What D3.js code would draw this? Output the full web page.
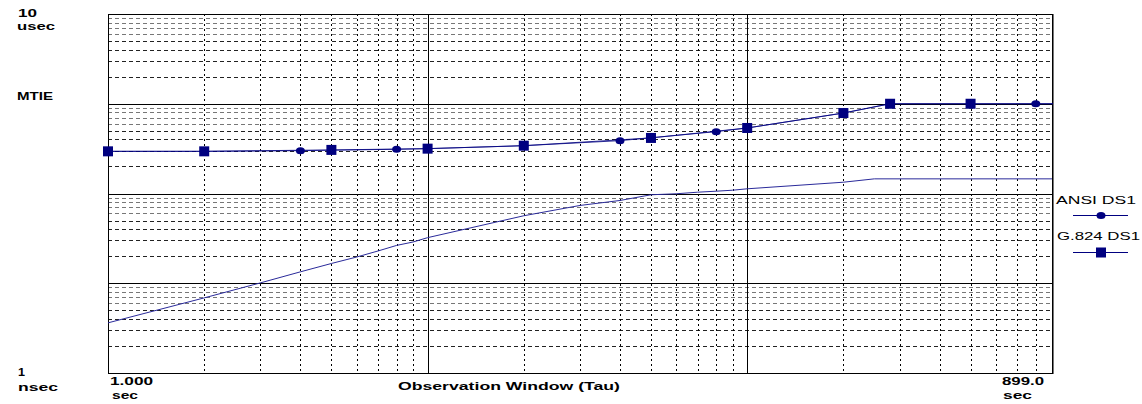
<!DOCTYPE html>
<html><head><meta charset="utf-8">
<script src="https://cdn.jsdelivr.net/npm/d3@7"></script>
<style>body{margin:0;background:#fff}svg{display:block}text{font-family:"Liberation Sans",Arial,sans-serif}</style>
</head><body><svg id="c" width="1142" height="404"></svg>
<script>
// Observation window tau (sec) and MTIE (nsec)
const g824Tau = [1, 2, 5, 10, 20, 50, 100, 200, 280, 500, 1000];
const g824Mtie = [295, 295, 306, 316, 341, 416, 537, 788, 1000, 1000, 1000];
const ansiTau = [1, 2, 4, 8, 10, 20, 40, 80, 100, 200, 280, 800, 1000];
const ansiMtie = [295, 295, 300, 311, 316, 341, 388, 489, 537, 788, 1000, 1000, 1000];
const measTau = [1, 2, 3, 4, 5, 6, 7, 8, 9, 10, 20, 30, 40, 50, 60, 70, 80, 90, 100, 200, 250, 899];
const measMtie = [3.62, 6.87, 10.1, 13.4, 16.6, 19.6, 22.9, 26.4, 28.8, 32.2, 56.5, 73.6, 83.6, 96.8, 99.3, 103.4, 106.1, 108.8, 112.8, 133.6, 145.6, 145.6];
const xDomain = [1, 899];
const yDomain = [1, 10000];
const legendNames = ["ANSI DS1", "G.824 DS1"];

const svg = d3.select("#c");
const L = 108, R = 1052, T = 14, B = 373;
const x = d3.scaleLog().domain(xDomain).range([L, R]);
const y = d3.scaleLog().domain(yDomain).range([B, T]);
const navy = "#000080";
const px = v => Math.round(v) + 0.5;

// grid
const yMinor = [], yMajor = [];
[1, 10, 100, 1000].forEach(d => { for (let k = 2; k <= 9; k++) yMinor.push(d * k); if (d > 1) yMajor.push(d); });
const xMinor = [], xMajor = [10, 100];
[1, 10, 100].forEach(d => { for (let k = 2; k <= 9; k++) if (d * k < xDomain[1]) xMinor.push(d * k); });

const grid = svg.append("g").attr("shape-rendering", "crispEdges");
grid.selectAll(".hm").data(yMinor).join("line")
  .attr("x1", L).attr("x2", R).attr("y1", d => px(y(d))).attr("y2", d => px(y(d)))
  .attr("stroke", d => (d / Math.pow(10, Math.floor(Math.log10(d) + 1e-9))) >= 6 ? "#777" : "#222")
  .attr("stroke-dasharray", "4,3");
grid.selectAll(".vm").data(xMinor).join("line")
  .attr("y1", T).attr("y2", B).attr("x1", d => px(x(d))).attr("x2", d => px(x(d)))
  .attr("stroke", "#000").attr("stroke-dasharray", "2,3");
grid.selectAll(".hM").data(yMajor).join("line")
  .attr("x1", L).attr("x2", R).attr("y1", d => px(y(d))).attr("y2", d => px(y(d)))
  .attr("stroke", "#000");
grid.selectAll(".vM").data(xMajor).join("line")
  .attr("y1", T).attr("y2", B).attr("x1", d => px(x(d))).attr("x2", d => px(x(d)))
  .attr("stroke", "#000");

// border
svg.append("rect").attr("x", L + 0.5).attr("y", T + 0.5).attr("width", R - L).attr("height", B - T)
  .attr("fill", "none").attr("stroke", "#000").attr("shape-rendering", "crispEdges");
svg.append("line").attr("x1", R + 1.5).attr("x2", R + 1.5).attr("y1", T).attr("y2", B + 1).attr("stroke", "#777");

svg.append("defs").append("clipPath").attr("id", "clip")
  .append("rect").attr("x", L).attr("y", T).attr("width", R - L + 1).attr("height", B - T);

const line = d3.line().x(d => x(d[0])).y(d => y(d[1]));
const zip = (a, b) => a.map((t, i) => [t, b[i]]);
const meas = zip(measTau, measMtie), ansi = zip(ansiTau, ansiMtie), g824 = zip(g824Tau, g824Mtie);

const lines = svg.append("g").attr("clip-path", "url(#clip)");
lines.append("path").attr("d", line(meas)).attr("fill", "none").attr("stroke", "#2a2a9a").attr("stroke-width", 1);
lines.append("path").attr("d", line(ansi)).attr("fill", "none").attr("stroke", navy).attr("stroke-width", 0.8);
lines.append("path").attr("d", line(g824)).attr("fill", "none").attr("stroke", navy).attr("stroke-width", 0.8);

const inDom = d => d[0] >= xDomain[0] && d[0] <= xDomain[1];
svg.append("g").selectAll("ellipse").data(ansi.filter(inDom)).join("ellipse")
  .attr("cx", d => x(d[0])).attr("cy", d => y(d[1])).attr("rx", 4.5).attr("ry", 3.5).attr("fill", navy);
svg.append("g").selectAll("rect").data(g824.filter(inDom)).join("rect")
  .attr("x", d => x(d[0]) - 5).attr("y", d => y(d[1]) - 5).attr("width", 10).attr("height", 10).attr("fill", navy);

// texts
function txt(s, xx, yy, w, bold) {
  svg.append("text").attr("x", xx).attr("y", yy).text(s)
    .attr("font-size", 11).attr("font-weight", bold ? "bold" : "normal").attr("fill", "#000")
    .attr("textLength", w).attr("lengthAdjust", "spacingAndGlyphs");
}
txt("10", 18, 17, 19, true);
txt("usec", 17, 30, 38, true);
txt("MTIE", 17, 100, 36, true);
txt("1", 18, 376, 7, true);
txt("nsec", 18, 391, 40, true);
txt("1.000", 110, 385, 43, true);
txt("sec", 112, 399, 26, true);
txt("899.0", 1002, 385, 42, true);
txt("sec", 1003, 399, 29, true);
txt("Observation Window (Tau)", 398, 390, 222, true);
txt(legendNames[0], 1056, 204, 80, false);
txt(legendNames[1], 1057, 240, 83, false);

// legend symbols
const lg = svg.append("g");
[215, 252].forEach((yy, i) => {
  lg.append("line").attr("x1", 1073).attr("x2", 1128).attr("y1", yy + 0.5).attr("y2", yy + 0.5).attr("stroke", navy);
  if (i === 0) lg.append("ellipse").attr("cx", 1101).attr("cy", yy + 0.5).attr("rx", 4.5).attr("ry", 3.5).attr("fill", navy);
  else lg.append("rect").attr("x", 1096).attr("y", yy - 4.5).attr("width", 10).attr("height", 10).attr("fill", navy);
});
</script></body></html>
